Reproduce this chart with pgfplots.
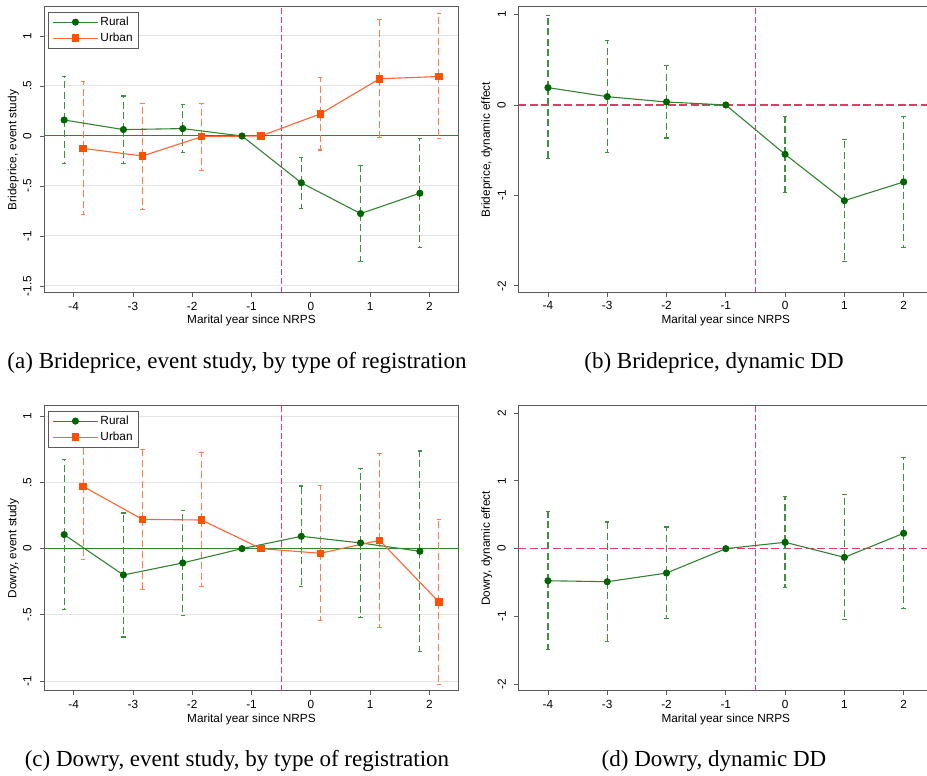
\documentclass[border=0pt]{standalone}
\usepackage{pgfplots}
\usepackage{pgfplotstable}
\pgfplotsset{compat=1.18}
\usepackage{fontspec}
\setmainfont{Liberation Sans}
\newfontfamily\capfont{Liberation Serif}
\definecolor{grnL}{RGB}{50,130,50}
\definecolor{grnM}{RGB}{0,100,0}
\definecolor{grnCI}{RGB}{60,145,60}
\definecolor{orL}{RGB}{255,100,50}
\definecolor{orM}{RGB}{255,80,0}
\definecolor{orCI}{RGB}{255,125,75}
\definecolor{refred}{RGB}{222,60,100}
\definecolor{framec}{RGB}{90,90,90}
\definecolor{gridc}{RGB}{228,228,228}

% x y ep em
\pgfplotstableread{
x y ep em
-4.16 0.160 0.435 0.434
-3.16 0.064 0.336 0.342
-2.16 0.074 0.240 0.241
-1.16 0.000 0.000 0.000
-0.16 -0.468 0.257 0.254
0.84 -0.776 0.478 0.475
1.84 -0.572 0.545 0.542
}\ruralA
\pgfplotstableread{
x y ep em
-3.84 -0.124 0.666 0.659
-2.84 -0.200 0.528 0.536
-1.84 -0.007 0.328 0.341
-0.84 0.000 0.000 0.000
0.16 0.221 0.364 0.361
1.16 0.572 0.595 0.589
2.16 0.595 0.626 0.618
}\urbanA
\pgfplotstableread{
x y ep em
-4 0.192 0.796 0.785
-3 0.092 0.623 0.619
-2 0.033 0.402 0.398
-1 0.000 0.000 0.000
0 -0.546 0.417 0.420
1 -1.058 0.675 0.674
2 -0.851 0.726 0.723
}\ddB
\pgfplotstableread{
x y ep em
-4.16 0.106 0.568 0.564
-3.16 -0.199 0.468 0.468
-2.16 -0.108 0.395 0.395
-1.16 0.000 0.000 0.000
-0.16 0.093 0.380 0.377
0.84 0.043 0.561 0.566
1.84 -0.020 0.757 0.757
}\ruralC
\pgfplotstableread{
x y ep em
-3.84 0.470 0.555 0.555
-2.84 0.221 0.528 0.528
-1.84 0.216 0.511 0.505
-0.84 0.000 0.000 0.000
0.16 -0.035 0.515 0.511
1.16 0.063 0.656 0.657
2.16 -0.403 0.624 0.621
}\urbanC
\pgfplotstableread{
x y ep em
-4 -0.473 1.020 1.020
-3 -0.488 0.882 0.886
-2 -0.360 0.680 0.670
-1 0.000 0.000 0.000
0 0.094 0.670 0.665
1 -0.128 0.921 0.916
2 0.227 1.118 1.109
}\ddD

\pgfplotsset{
  statastyle/.style={
    scale only axis, width=415pt,
    xmin=-4.5, xmax=2.5,
    xtick={-4,-3,-2,-1,0,1,2}, xticklabels={-4,-3,-2,-1,0,1,2},
    xtick pos=left, ytick pos=left,
    tick align=outside, major tick length=4pt,
    tick style={framec, line width=0.8pt},
    axis line style={framec, line width=1pt},
    font=\fontsize{11.8}{13}\selectfont,
    yticklabel style={rotate=90, anchor=south},
    yticklabel shift=5pt,
    xticklabel shift=1.5pt,
    xlabel={Marital year since NRPS},
    xlabel style={at={(axis description cs:0.5,-0.097)}, anchor=center},
    legend style={at={(0.0096,0.9836)}, anchor=north west, draw=framec,
      line width=0.8pt, inner xsep=4pt, inner ysep=3pt, row sep=2pt,
      /tikz/column 2/.style={column sep=4pt},
      cells={anchor=west}, font=\fontsize{11.8}{13}\selectfont},
    legend image code/.code={\draw[mark repeat=2,mark phase=2,##1] plot coordinates {(0pt,0pt) (22.5pt,0pt) (45pt,0pt)};},
  },
  gridded/.style={ymajorgrids, major grid style={gridc, line width=1pt}},
  cig/.style={forget plot, only marks, mark=none, grnCI,
    error bars/.cd, y dir=both, y explicit,
    error bar style={grnCI, line width=1.2pt, dash pattern=on 7pt off 3.5pt},
    error mark options={solid, grnCI, line width=1.1pt, mark size=2.2pt, rotate=90}},
  cio/.style={forget plot, only marks, mark=none, orCI,
    error bars/.cd, y dir=both, y explicit,
    error bar style={orCI, line width=1.2pt, dash pattern=on 7pt off 3.5pt},
    error mark options={solid, orCI, line width=1.1pt, mark size=2.2pt, rotate=90}},
  ruralline/.style={grnL, line width=1.1pt, mark=*, mark size=3pt, mark options={solid, fill=grnM, draw=grnM}},
  urbanline/.style={orL, line width=1.1pt, mark=square*, mark size=3.2pt, mark options={solid, fill=orM, draw=orM}},
}

\begin{document}
\begin{tikzpicture}
% (a)
\begin{axis}[statastyle, gridded, at={(44pt,483pt)}, anchor=south west, height=286pt,
  ymin=-1.57, ymax=1.29, ytick={-1.5,-1,-0.5,0,0.5,1}, yticklabels={-1.5,-1,-.5,0,.5,1},
  ylabel={Brideprice, event study},
  ylabel style={at={(axis description cs:-0.074,0.5)}, anchor=center}]
\addplot[forget plot, grnL, line width=1pt] coordinates {(-4.5,0) (2.5,0)};
\addplot[forget plot, refred, line width=1.1pt, dash pattern=on 6pt off 3pt] coordinates {(-0.5,-1.57) (-0.5,1.29)};
\addplot[cig] table[x=x, y=y, y error plus=ep, y error minus=em] {\ruralA};
\addplot[cio] table[x=x, y=y, y error plus=ep, y error minus=em] {\urbanA};
\addplot[ruralline] table[x=x, y=y] {\ruralA};
\addplot[urbanline] table[x=x, y=y] {\urbanA};
\legend{Rural, Urban}
\end{axis}
% (b)
\begin{axis}[statastyle, at={(518.3pt,483.3pt)}, anchor=south west, height=286pt,
  ymin=-2.076, ymax=1.087, ytick={-2,-1,0,1}, yticklabels={-2,-1,0,1},
  ylabel={Brideprice, dynamic effect},
  ylabel style={at={(axis description cs:-0.076,0.5)}, anchor=center}]
\addplot[forget plot, refred, line width=1.1pt, dash pattern=on 8pt off 3.5pt] coordinates {(-4.5,0) (2.5,0)};
\addplot[forget plot, refred, line width=1.1pt, dash pattern=on 6pt off 3pt] coordinates {(-0.5,-2.076) (-0.5,1.087)};
\addplot[cig] table[x=x, y=y, y error plus=ep, y error minus=em] {\ddB};
\addplot[ruralline] table[x=x, y=y] {\ddB};
\end{axis}
% (c)
\begin{axis}[statastyle, gridded, at={(44pt,85pt)}, anchor=south west, height=285pt,
  ymin=-1.075, ymax=1.077, ytick={-1,-0.5,0,0.5,1}, yticklabels={-1,-.5,0,.5,1},
  ylabel={Dowry, event study},
  ylabel style={at={(axis description cs:-0.074,0.5)}, anchor=center},
  xlabel style={at={(axis description cs:0.5,-0.099)}, anchor=center}]
\addplot[forget plot, grnL, line width=1pt] coordinates {(-4.5,0) (2.5,0)};
\addplot[forget plot, refred, line width=1.1pt, dash pattern=on 6pt off 3pt] coordinates {(-0.5,-1.075) (-0.5,1.077)};
\addplot[cig] table[x=x, y=y, y error plus=ep, y error minus=em] {\ruralC};
\addplot[cio] table[x=x, y=y, y error plus=ep, y error minus=em] {\urbanC};
\addplot[ruralline] table[x=x, y=y] {\ruralC};
\addplot[urbanline] table[x=x, y=y] {\urbanC};
\legend{Rural, Urban}
\end{axis}
% (d)
\begin{axis}[statastyle, at={(518.3pt,85pt)}, anchor=south west, height=285pt,
  ymin=-2.1, ymax=2.105, ytick={-2,-1,0,1,2}, yticklabels={-2,-1,0,1,2},
  ylabel={Dowry, dynamic effect},
  ylabel style={at={(axis description cs:-0.076,0.5)}, anchor=center},
  xlabel style={at={(axis description cs:0.5,-0.099)}, anchor=center}]
\addplot[forget plot, refred, line width=1.1pt, dash pattern=on 8pt off 3.5pt] coordinates {(-4.5,0) (2.5,0)};
\addplot[forget plot, refred, line width=1.1pt, dash pattern=on 6pt off 3pt] coordinates {(-0.5,-2.1) (-0.5,2.105)};
\addplot[cig] table[x=x, y=y, y error plus=ep, y error minus=em] {\ddD};
\addplot[ruralline] table[x=x, y=y] {\ddD};
\end{axis}
% captions
\node[anchor=base, font=\capfont\fontsize{23}{26}\selectfont] at (237pt,407pt) {(a) Brideprice, event study, by type of registration};
\node[anchor=base, font=\capfont\fontsize{23}{26}\selectfont] at (714pt,407pt) {(b) Brideprice, dynamic DD};
\node[anchor=base, font=\capfont\fontsize{23}{26}\selectfont] at (237pt,9pt) {(c) Dowry, event study, by type of registration};
\node[anchor=base, font=\capfont\fontsize{23}{26}\selectfont] at (714pt,9pt) {(d) Dowry, dynamic DD};
\pgfresetboundingbox
\useasboundingbox (0pt,0pt) rectangle (927pt,776pt);
\end{tikzpicture}
\end{document}
